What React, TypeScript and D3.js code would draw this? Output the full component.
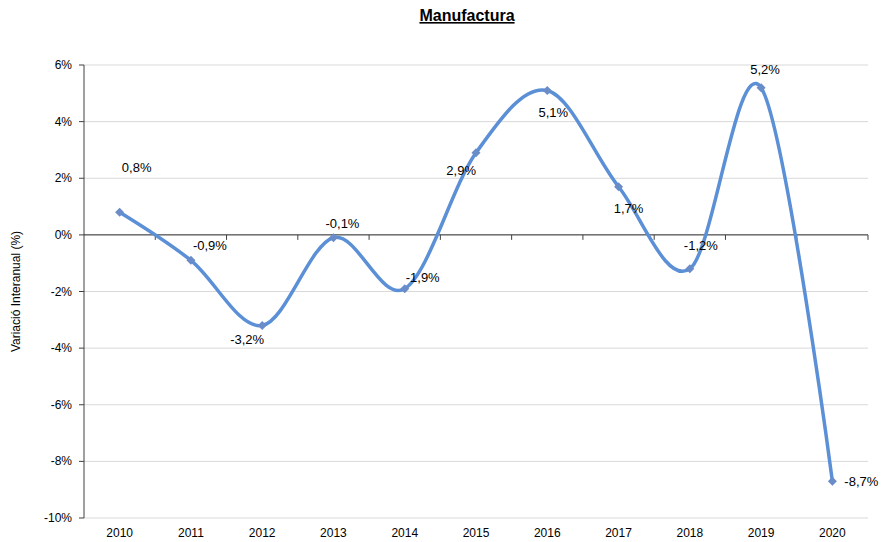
import React from "react";
import * as d3 from "d3";

const years = ["2010","2011","2012","2013","2014","2015","2016","2017","2018","2019","2020"];
const values = [0.8, -0.9, -3.2, -0.1, -1.9, 2.9, 5.1, 1.7, -1.2, 5.2, -8.7];
const yTicks = [6, 4, 2, 0, -2, -4, -6, -8, -10];

const W = 882, H = 542;
const M = { left: 84, right: 868, top: 65, bottom: 518 };
const FONT = "'Liberation Sans', Arial, sans-serif";

// label offsets (dx, dy from point, anchor)
const labelOffsets: [number, number, string][] = [
  [17, -40, "middle"],
  [19, -10, "middle"],
  [-15, 19, "middle"],
  [9, -10, "middle"],
  [1, -7, "start"],
  [0, 22, "end"],
  [6, 27, "middle"],
  [10, 26, "middle"],
  [11, -19, "middle"],
  [4, -14, "middle"],
  [12, 5, "start"],
];

export default function App() {
  const x = d3.scaleBand<string>().domain(years).range([M.left, M.right]);
  const y = d3.scaleLinear().domain([-10, 6]).range([M.bottom, M.top]);
  const cx = (i: number) => (x(years[i]) as number) + x.bandwidth() / 2;
  const pts: [number, number][] = values.map((v, i) => [cx(i), y(v)]);
  const line = d3.line().curve(d3.curveCardinal.tension(0))(pts) as string;
  const fmt = (v: number) => v.toFixed(1).replace(".", ",") + "%";
  const y0 = y(0);

  return (
    <svg width={W} height={H} style={{ position: "absolute", left: 0, top: 0, background: "#fff" }} fontFamily={FONT}>
      <text x={467} y={21} textAnchor="middle" fontSize={16} fontWeight="bold" textDecoration="underline" fill="#000">Manufactura</text>
      {yTicks.map(t => (
        <g key={t}>
          {t !== 0 && <line x1={M.left} x2={M.right} y1={y(t)} y2={y(t)} stroke="#d9d9d9" strokeWidth={1} />}
          <line x1={M.left - 5} x2={M.left} y1={y(t)} y2={y(t)} stroke="#404040" strokeWidth={1} />
          <text x={M.left - 12} y={y(t) + 4} textAnchor="end" fontSize={12} fill="#000">{t}%</text>
        </g>
      ))}
      <line x1={M.left} x2={M.left} y1={M.top} y2={M.bottom} stroke="#404040" strokeWidth={1} />
      <line x1={M.left} x2={M.right} y1={y0} y2={y0} stroke="#202020" strokeWidth={1} />
      {years.map((yr, i) => (
        <g key={yr}>
          <line x1={(x(yr) as number) + x.bandwidth()} x2={(x(yr) as number) + x.bandwidth()} y1={y0} y2={y0 + 5} stroke="#404040" strokeWidth={1} />
          <text x={cx(i)} y={537} textAnchor="middle" fontSize={12} fill="#000">{yr}</text>
        </g>
      ))}
      <text transform={`translate(20,${(M.top + M.bottom) / 2}) rotate(-90)`} textAnchor="middle" fontSize={12} fill="#000">Variació Interanual (%)</text>
      <path d={line} fill="none" stroke="#5B8FD6" strokeWidth={3.5} strokeLinejoin="round" />
      {pts.map(([px, py], i) => (
        <path key={i} d={`M${px},${py - 4.5}L${px + 4.5},${py}L${px},${py + 4.5}L${px - 4.5},${py}Z`} fill="#6A8CC8" />
      ))}
      {values.map((v, i) => {
        const [dx, dy, anchor] = labelOffsets[i];
        return <text key={i} x={pts[i][0] + dx} y={pts[i][1] + dy} textAnchor={anchor as any} fontSize={13} fill="#000">{fmt(v)}</text>;
      })}
    </svg>
  );
}
